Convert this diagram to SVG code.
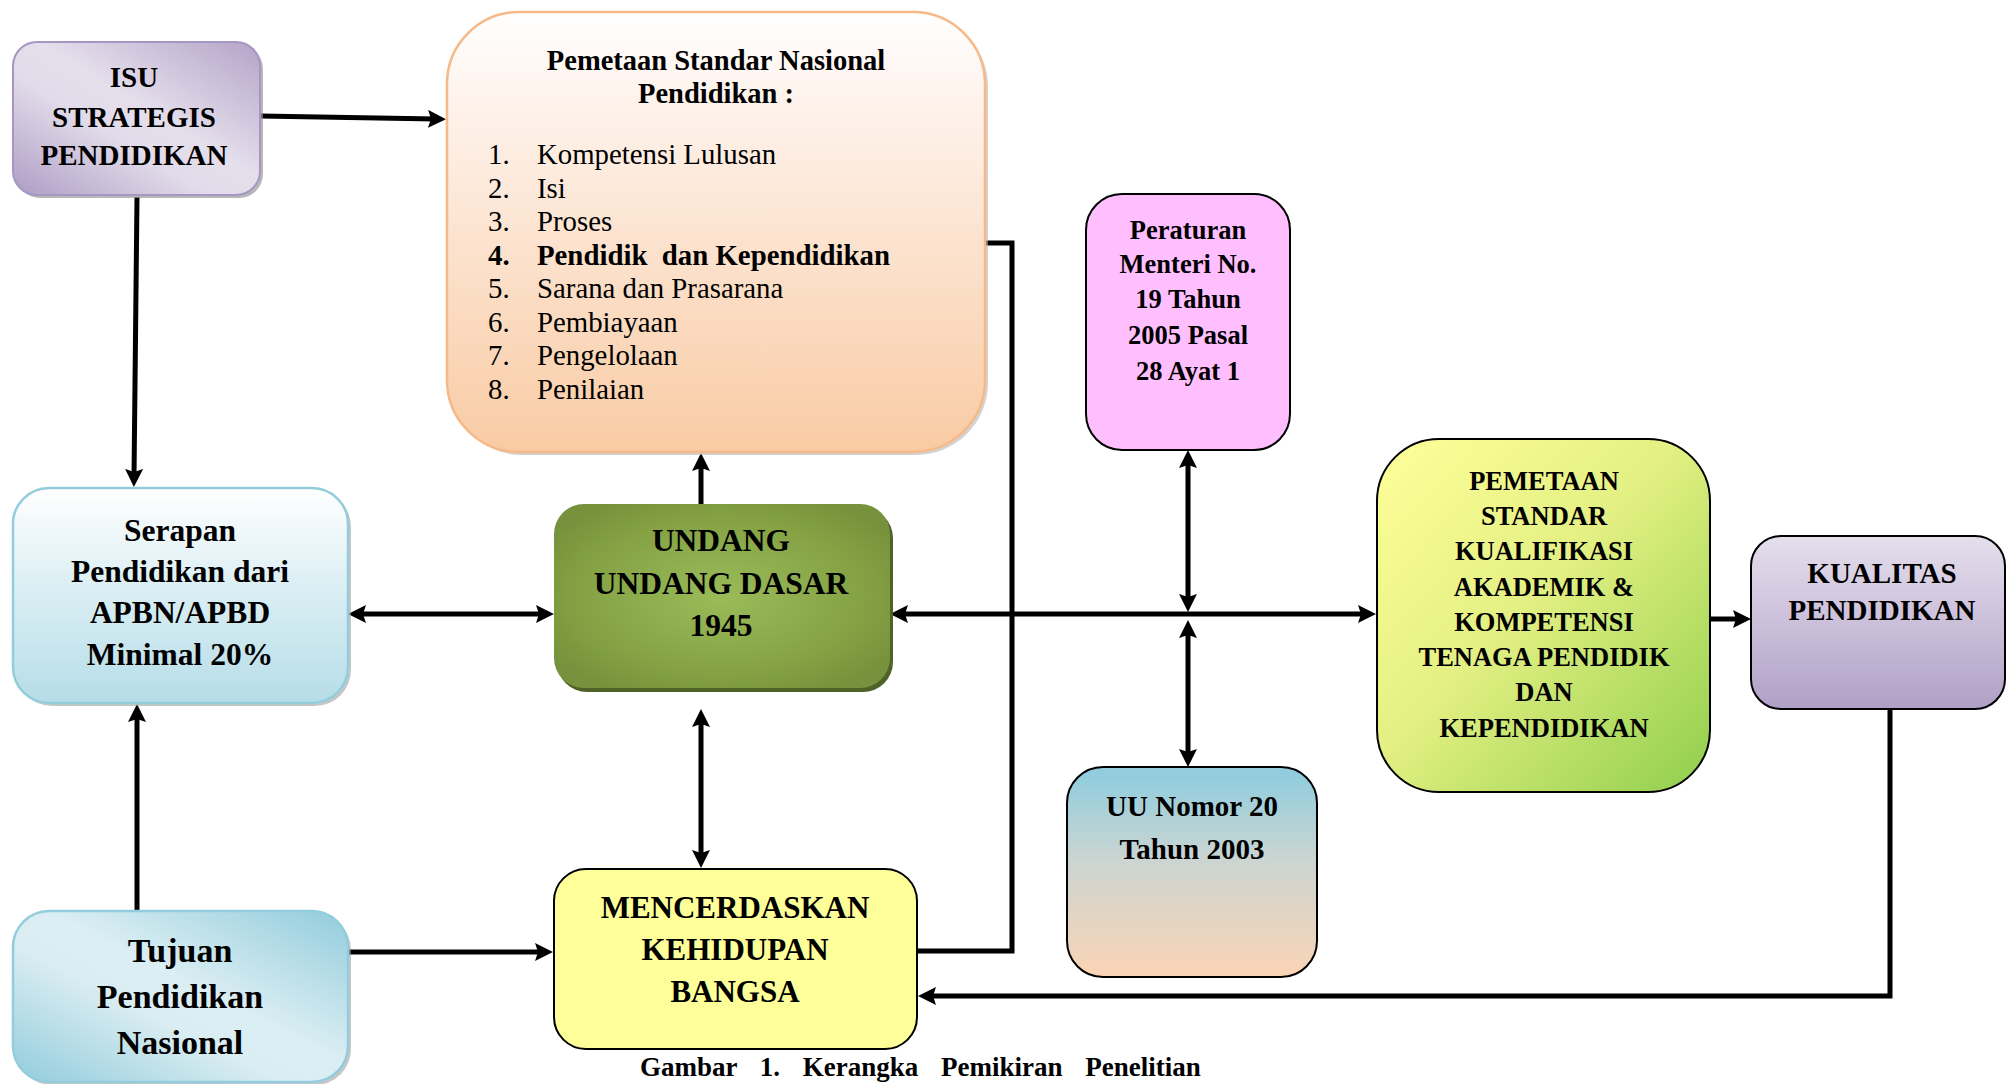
<svg xmlns="http://www.w3.org/2000/svg" width="2008" height="1084" viewBox="0 0 2008 1084">
<defs>
  <style>
    text { font-family: "Liberation Serif", "Times New Roman", serif; fill: #000; }
    .b { font-weight: bold; }
    .c { text-anchor: middle; }
    .conn { fill: none; stroke: #000; stroke-width: 5; }
    .blk { stroke: #000; stroke-width: 2; }
  </style>
  <marker id="ah" viewBox="0 0 18 18" refX="8" refY="9" markerWidth="18" markerHeight="18" markerUnits="userSpaceOnUse" orient="auto-start-reverse">
    <path d="M0,0 L18,9 L0,18 L3,9 z" fill="#000"/>
  </marker>
  <linearGradient id="gPurpleDiag" x1="1" y1="0" x2="0" y2="1">
    <stop offset="0" stop-color="#B4A3C8"/>
    <stop offset="0.45" stop-color="#E5DFEC"/>
    <stop offset="0.6" stop-color="#E2DCEA"/>
    <stop offset="1" stop-color="#AE9CC4"/>
  </linearGradient>
  <linearGradient id="gBlueDiag" x1="1" y1="0" x2="0" y2="1">
    <stop offset="0" stop-color="#92CCDC"/>
    <stop offset="0.45" stop-color="#DBEEF3"/>
    <stop offset="0.6" stop-color="#D9EDF2"/>
    <stop offset="1" stop-color="#92CCDC"/>
  </linearGradient>
  <linearGradient id="gPeach" x1="0" y1="0" x2="0" y2="1">
    <stop offset="0" stop-color="#FFFFFF"/>
    <stop offset="0.2" stop-color="#FEF3EC"/>
    <stop offset="1" stop-color="#F9CBA4"/>
  </linearGradient>
  <linearGradient id="gSerapan" x1="0" y1="0" x2="0" y2="1">
    <stop offset="0" stop-color="#FFFFFF"/>
    <stop offset="0.45" stop-color="#DCEFF4"/>
    <stop offset="1" stop-color="#B6DDE8"/>
  </linearGradient>
  <linearGradient id="gUU" x1="0" y1="0" x2="0" y2="1">
    <stop offset="0.05" stop-color="#93CDDD"/>
    <stop offset="0.45" stop-color="#CCD5D2"/>
    <stop offset="1" stop-color="#FBD4B4"/>
  </linearGradient>
  <linearGradient id="gPSK" x1="0" y1="0" x2="1" y2="1">
    <stop offset="0" stop-color="#FFFF99"/>
    <stop offset="0.45" stop-color="#E4F083"/>
    <stop offset="1" stop-color="#8FCE4C"/>
  </linearGradient>
  <linearGradient id="gKual" x1="0" y1="0" x2="0" y2="1">
    <stop offset="0" stop-color="#E4DFEC"/>
    <stop offset="0.3" stop-color="#D6CCE2"/>
    <stop offset="1" stop-color="#B0A0C6"/>
  </linearGradient>
  <radialGradient id="gUUD" cx="0.5" cy="0.5" r="0.6">
    <stop offset="0" stop-color="#9BBB59"/>
    <stop offset="0.7" stop-color="#84A244"/>
    <stop offset="1" stop-color="#76923C"/>
  </radialGradient>
</defs>

<g id="connectors">
  <path class="conn" d="M260,116 L436,119" marker-end="url(#ah)"/>
  <path class="conn" d="M137,197 L134,477" marker-end="url(#ah)"/>
  <path class="conn" d="M137,911 L137,714" marker-end="url(#ah)"/>
  <path class="conn" d="M358,614 L544,614" marker-start="url(#ah)" marker-end="url(#ah)"/>
  <path class="conn" d="M348,952 L543,952" marker-end="url(#ah)"/>
  <path class="conn" d="M701,504 L701,463" marker-end="url(#ah)"/>
  <path class="conn" d="M701,719 L701,858" marker-start="url(#ah)" marker-end="url(#ah)"/>
  <path class="conn" d="M985,243 L1012,243 L1012,951 L917,951"/>
  <path class="conn" d="M900,614 L1366,614" marker-start="url(#ah)" marker-end="url(#ah)"/>
  <path class="conn" d="M1188,460 L1188,602" marker-start="url(#ah)" marker-end="url(#ah)"/>
  <path class="conn" d="M1188,630 L1188,757" marker-start="url(#ah)" marker-end="url(#ah)"/>
  <path class="conn" d="M1710,619 L1741,619" stroke-width="6" marker-end="url(#ah)"/>
  <path class="conn" d="M1890,709 L1890,996 L928,996" marker-end="url(#ah)"/>
</g>

<g id="isu">
  <rect x="16" y="45" width="247" height="153" rx="24" fill="#9A9A9A" opacity="0.7"/>
  <rect x="13" y="42" width="247" height="153" rx="24" fill="url(#gPurpleDiag)" stroke="#A696C2" stroke-width="2"/>
  <text class="b c" x="134" y="87" font-size="29">ISU</text>
  <text class="b c" x="134" y="127" font-size="29">STRATEGIS</text>
  <text class="b c" x="134" y="165" font-size="29">PENDIDIKAN</text>
</g>

<g id="pemetaan-snp">
  <rect x="450" y="15" width="538" height="440" rx="72" fill="#B5B5B5" opacity="0.6"/>
  <rect x="447" y="12" width="538" height="440" rx="72" fill="url(#gPeach)" stroke="#F6B987" stroke-width="2.5"/>
  <text class="b c" x="716" y="70" font-size="28.5">Pemetaan Standar Nasional</text>
  <text class="b c" x="716" y="103" font-size="28.5">Pendidikan :</text>
  <g font-size="28.8">
    <text x="488" y="164">1.</text><text x="537" y="164">Kompetensi Lulusan</text>
    <text x="488" y="198">2.</text><text x="537" y="198">Isi</text>
    <text x="488" y="231">3.</text><text x="537" y="231">Proses</text>
    <text class="b" x="488" y="265">4.</text><text class="b" x="537" y="265" xml:space="preserve">Pendidik  dan Kependidikan</text>
    <text x="488" y="298">5.</text><text x="537" y="298">Sarana dan Prasarana</text>
    <text x="488" y="332">6.</text><text x="537" y="332">Pembiayaan</text>
    <text x="488" y="365">7.</text><text x="537" y="365">Pengelolaan</text>
    <text x="488" y="399">8.</text><text x="537" y="399">Penilaian</text>
  </g>
</g>

<g id="peraturan">
  <rect class="blk" x="1086" y="194" width="204" height="256" rx="36" fill="#FFBFFF"/>
  <g font-size="26.5">
    <text class="b c" x="1188" y="239">Peraturan</text>
    <text class="b c" x="1188" y="273">Menteri No.</text>
    <text class="b c" x="1188" y="308">19 Tahun</text>
    <text class="b c" x="1188" y="344">2005 Pasal</text>
    <text class="b c" x="1188" y="380">28 Ayat 1</text>
  </g>
</g>

<g id="uu-nomor-20">
  <rect class="blk" x="1067" y="767" width="250" height="210" rx="36" fill="url(#gUU)"/>
  <text class="b c" x="1192" y="816" font-size="29">UU Nomor 20</text>
  <text class="b c" x="1192" y="859" font-size="29">Tahun 2003</text>
</g>

<g id="pemetaan-skk">
  <rect class="blk" x="1377" y="439" width="333" height="353" rx="62" fill="url(#gPSK)"/>
  <g font-size="26.5">
    <text class="b c" x="1544" y="490">PEMETAAN</text>
    <text class="b c" x="1544" y="525">STANDAR</text>
    <text class="b c" x="1544" y="560">KUALIFIKASI</text>
    <text class="b c" x="1544" y="596">AKADEMIK &amp;</text>
    <text class="b c" x="1544" y="631">KOMPETENSI</text>
    <text class="b c" x="1544" y="666">TENAGA PENDIDIK</text>
    <text class="b c" x="1544" y="701">DAN</text>
    <text class="b c" x="1544" y="737">KEPENDIDIKAN</text>
  </g>
</g>

<g id="kualitas">
  <rect class="blk" x="1751" y="536" width="254" height="173" rx="30" fill="url(#gKual)"/>
  <text class="b c" x="1882" y="583" font-size="29">KUALITAS</text>
  <text class="b c" x="1882" y="620" font-size="29">PENDIDIKAN</text>
</g>

<g id="uud-1945">
  <rect x="557" y="508" width="336" height="184" rx="30" fill="#4F6228"/>
  <rect x="554" y="504" width="336" height="184" rx="30" fill="url(#gUUD)"/>
  <text class="b c" x="721" y="551" font-size="31.5">UNDANG</text>
  <text class="b c" x="721" y="594" font-size="31.5">UNDANG DASAR</text>
  <text class="b c" x="721" y="636" font-size="31.5">1945</text>
</g>

<g id="serapan">
  <rect x="16" y="491" width="335" height="215" rx="36" fill="#A0A0A0" opacity="0.6"/>
  <rect x="13" y="488" width="335" height="215" rx="36" fill="url(#gSerapan)" stroke="#93CDDD" stroke-width="2.5"/>
  <g font-size="31.5">
    <text class="b c" x="180" y="541">Serapan</text>
    <text class="b c" x="180" y="582">Pendidikan dari</text>
    <text class="b c" x="180" y="623">APBN/APBD</text>
    <text class="b c" x="180" y="665">Minimal 20%</text>
  </g>
</g>

<g id="tujuan">
  <rect x="16" y="914" width="335" height="171" rx="36" fill="#A0A0A0" opacity="0.6"/>
  <rect x="13" y="911" width="335" height="171" rx="36" fill="url(#gBlueDiag)" stroke="#93CDDD" stroke-width="2.5"/>
  <g font-size="34">
    <text class="b c" x="180" y="962">Tujuan</text>
    <text class="b c" x="180" y="1008">Pendidikan</text>
    <text class="b c" x="180" y="1054">Nasional</text>
  </g>
</g>

<g id="mencerdaskan">
  <rect class="blk" x="554" y="869" width="363" height="180" rx="32" fill="#FFFF99"/>
  <g font-size="31">
    <text class="b c" x="735" y="918">MENCERDASKAN</text>
    <text class="b c" x="735" y="960">KEHIDUPAN</text>
    <text class="b c" x="735" y="1002">BANGSA</text>
  </g>
</g>

<g id="caption">
  <text class="b" x="640" y="1076" font-size="27" word-spacing="16">Gambar 1. Kerangka Pemikiran Penelitian</text>
</g>
</svg>
